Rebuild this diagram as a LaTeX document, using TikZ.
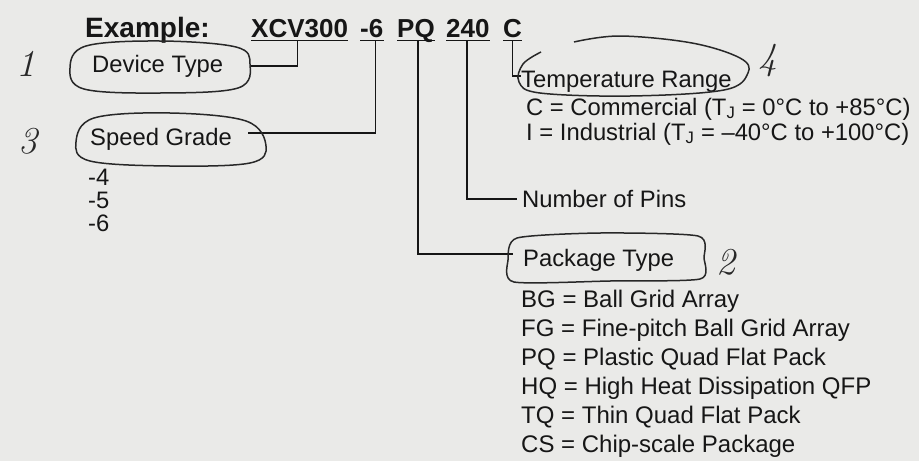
\documentclass[tikz,border=0pt]{standalone}
\usepackage{fontspec}
\setsansfont{Liberation Sans}
\definecolor{paper}{RGB}{234,234,232}
\definecolor{ink}{RGB}{22,22,22}
\definecolor{pen}{RGB}{40,40,40}
\begin{document}
\begin{tikzpicture}[x=1pt,y=-1pt,
  lbl/.style={anchor=base west, inner sep=0pt, text=ink, font=\sffamily\fontsize{23.8}{28}\selectfont},
  lst/.style={anchor=base west, inner sep=0pt, text=ink, font=\sffamily\fontsize{24}{28}\selectfont},
  code/.style={anchor=base west, inner sep=0pt, text=ink, font=\sffamily\bfseries\fontsize{26}{30}\selectfont},
  wire/.style={draw=ink, line width=1.3pt},
  uline/.style={draw=ink, line width=1.8pt},
  loop/.style={draw=pen, line width=1.5pt},
  hand/.style={anchor=center, inner sep=0pt, text=pen, font=\rmfamily\itshape\fontsize{38}{38}\selectfont}]
\fill[paper] (0,0) rectangle (919,461);
\useasboundingbox (0,0) rectangle (919,461);

% title row
\node[code, font=\sffamily\bfseries\fontsize{28}{30}\selectfont] (ex) at (85,37) {Example:};
\node[code] (xcv) at (251,37) {XCV300};
\node[code] (m6)  at (360,37) {-6};
\node[code] (pq)  at (397,37) {PQ};
\node[code] (pin) at (446,37) {240};
\node[code] (cc)  at (503,37) {C};
\foreach \n in {xcv,m6,pq,pin,cc}
  \draw[uline] ([yshift=-3.5pt]\n.base west) -- ([yshift=-3.5pt]\n.base east);

% labels
\node[lbl] (dev)  at (92,72)   {Device Type};
\node[lbl] (spd)  at (90,145)  {Speed Grade};
\node[lbl] (s4)   at (88,185)  {-4};
\node[lbl] (s5)   at (88,208)  {-5};
\node[lbl] (s6)   at (88,231)  {-6};
\node[lbl] (temp) at (521,87)  {Temperature Range};
\node[lbl] (tc)   at (526,115) {C = Commercial (T\textsubscript{J} = 0°C to +85°C)};
\node[lbl] (ti)   at (526,140) {I = Industrial (T\textsubscript{J} = --40°C to +100°C)};
\node[lbl] (npin) at (522,207) {Number of Pins};
\node[lbl] (pkg)  at (523,266) {Package Type};
\node[lst] (p1) at (521,307) {BG = Ball Grid Array};
\node[lst] (p2) at (521,336) {FG = Fine-pitch Ball Grid Array};
\node[lst] (p3) at (521,365) {PQ = Plastic Quad Flat Pack};
\node[lst] (p4) at (521,394) {HQ = High Heat Dissipation QFP};
\node[lst] (p5) at (521,423) {TQ = Thin Quad Flat Pack};
\node[lst] (p6) at (521,452) {CS = Chip-scale Package};

% connector ends
\coordinate (devend)  at (250,66);
\coordinate (spdend)  at (248,133);
\coordinate (tempend) at (521,76);
\coordinate (pinsend) at (517,199);
\coordinate (pkgend)  at (513,254);

\draw[wire] ([xshift=-2pt,yshift=-3.5pt]xcv.base) |- (devend);
\draw[wire] ([xshift=4pt,yshift=-3.5pt]m6.base)   |- (spdend);
\draw[wire] ([xshift=2pt,yshift=-3.5pt]pq.base)   |- (pkgend);
\draw[wire] ([xshift=-1pt,yshift=-3.5pt]pin.base) |- (pinsend);
\draw[wire] ([yshift=-3.5pt]cc.base)              |- (tempend);

% hand-drawn loops
\draw[loop] plot[smooth cycle, tension=0.6] coordinates
  {(70,68) (86,46) (160,41) (236,47) (250,64) (238,88) (160,93) (84,89)};
\draw[loop] plot[smooth cycle, tension=0.6] coordinates
  {(76,142) (94,118) (170,113) (246,121) (266,146) (250,163) (170,166) (90,161)};
\draw[loop] plot[smooth, tension=0.6] coordinates
  {(541,52) (523,64) (519,82) (540,93) (630,96) (724,90) (748,73) (740,58) (692,43) (620,36) (574,42)};
\draw[loop] plot[smooth cycle, tension=0.4] coordinates
  {(517,238) (508,260) (514,282) (610,281) (700,279) (704,258) (698,236) (600,233)};

% handwritten numbers
\node[hand] (h1) at (26,64)  {1};
\node[hand] (h3) at (28,141) {3};
\node[hand] (h4) at (768,61) {4};
\node[hand] (h2) at (726,262) {2};
\end{tikzpicture}
\end{document}
